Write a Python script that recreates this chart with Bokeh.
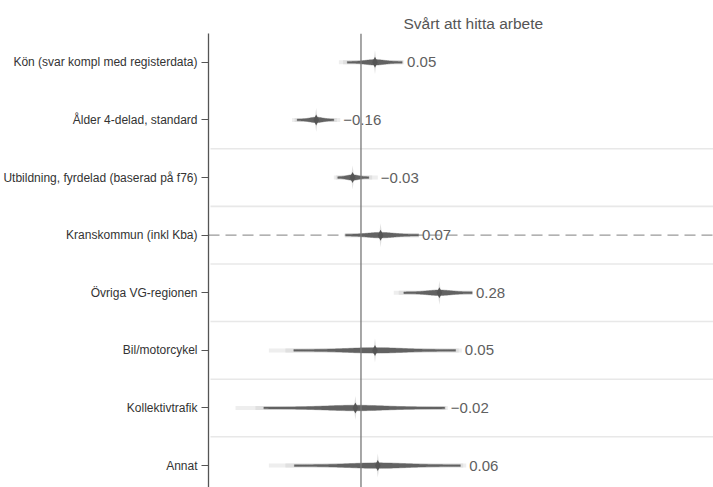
import numpy as np
from bokeh.plotting import figure
from bokeh.models import Range1d, FixedTicker, Span
from bokeh.core.properties import value
from bokeh.embed import file_html
from bokeh.resources import INLINE

# ---- data ----
categories = [
    "Kön (svar kompl med registerdata)",
    "Ålder 4-delad, standard",
    "Utbildning, fyrdelad (baserad på f76)",
    "Kranskommun (inkl Kba)",
    "Övriga VG-regionen",
    "Bil/motorcykel",
    "Kollektivtrafik",
    "Annat",
]
est = [0.05, -0.16, -0.03, 0.07, 0.28, 0.05, -0.02, 0.06]
labels = ["0.05", "\u22120.16", "\u22120.03", "0.07", "0.28", "0.05", "\u22120.02", "0.06"]
outer_lo = [-0.079, -0.246, -0.097, -0.059, 0.117, -0.329, -0.448, -0.329]
outer_hi = [0.154, -0.074, 0.060, 0.207, 0.400, 0.360, 0.310, 0.376]
mid_lo = [-0.064, -0.237, -0.090, -0.057, 0.135, -0.270, -0.377, -0.270]
mid_hi = [0.150, -0.086, 0.040, 0.207, 0.398, 0.349, 0.304, 0.365]
dark_lo = [-0.049, -0.228, -0.083, -0.055, 0.153, -0.240, -0.347, -0.238]
dark_hi = [0.147, -0.097, 0.028, 0.206, 0.397, 0.338, 0.299, 0.355]
reference_row = "Kranskommun (inkl Kba)"
title = "Svårt att hitta arbete"

FONT = "Liberation Sans"
X0, X1 = -0.5446, 1.259
Y0, Y1 = -7.38, 0.5
W, H = 713, 487
FRAME_W, FRAME_H = 505, 454
PXX = (X1 - X0) / FRAME_W
PXY = (Y1 - Y0) / FRAME_H

n = len(categories)
ys = [-i for i in range(n)]

p = figure(width=W, height=H, output_backend="svg", toolbar_location=None,
           x_range=Range1d(X0, X1), y_range=Range1d(Y0, Y1),
           min_border_left=208, min_border_right=0, min_border_bottom=0, min_border_top=33)
p.title.text = title
p.title.align = "left"
p.title.offset = 195
p.title.text_font = FONT
p.title.text_font_size = "15.5px"
p.title.text_font_style = "normal"
p.title.text_color = "#555555"
p.title.standoff = 4
p.outline_line_color = None
p.xgrid.visible = False
p.ygrid.visible = False
p.xaxis.visible = False
p.yaxis.ticker = FixedTicker(ticks=ys)
p.yaxis.major_label_overrides = {y: c for y, c in zip(ys, categories)}
p.yaxis.major_label_text_font = FONT
p.yaxis.major_label_text_font_size = "12px"
p.yaxis.major_label_text_color = "#333333"
p.yaxis.axis_line_color = "#555555"
p.yaxis.axis_line_width = 1.3
p.yaxis.major_tick_line_color = "#555555"
p.yaxis.major_tick_out = 7
p.yaxis.major_tick_in = 0
p.yaxis.minor_tick_line_color = None
p.yaxis.major_label_standoff = 4

# separators between rows
seps = [y - 0.5 for y in ys[1:]]
p.segment(x0=[X0 + 2 * PXX] * len(seps), y0=seps, x1=[X1] * len(seps), y1=seps,
          line_color="#e8e8e8", line_width=1.6)

# reference dashed line
ref_y = ys[categories.index(reference_row)]
p.add_layout(Span(location=ref_y, dimension="width", line_color="#999999",
                  line_width=1.4, line_dash="11 6", level="underlay"))

# light intervals
p.segment(x0=outer_lo, y0=ys, x1=outer_hi, y1=ys, line_color="#eeeeee", line_width=4)
p.segment(x0=mid_lo, y0=ys, x1=mid_hi, y1=ys, line_color="#e0e0e0", line_width=4)

# light center spikes (behind the dark shapes)
star_dx = np.array([0, 1.3, 5, 1.3, 0, -1.3, -5, -1.3])
star_dy = np.array([12, 2.2, 0, -2.2, -12, -2.2, 0, 2.2])
sx = [list(e + star_dx * PXX) for e in est]
sy = [list(y + star_dy * PXY) for y in ys]
p.patches(sx, sy, fill_color="#d8d8d8", fill_alpha=0.8, line_color=None)

# dark violin shapes
vx, vy = [], []
for e, lo, hi, y in zip(est, dark_lo, dark_hi, ys):
    xs = np.linspace(lo, hi, 100)
    sd = max(e - lo, hi - e) / 3.0
    half = (0.85 + 1.9 * np.exp(-0.5 * ((xs - e) / sd) ** 2)) * PXY
    vx.append(list(xs) + list(xs[::-1]))
    vy.append(list(y + half) + list((y - half)[::-1]))
p.patches(vx, vy, fill_color="#626262", line_color="#626262", line_width=0.4)

# dark center diamonds
dia_dx = np.array([0, 2.8, 0, -2.8])
dia_dy = np.array([5.5, 0, -5.5, 0])
dx = [list(e + dia_dx * PXX) for e in est]
dy = [list(y + dia_dy * PXY) for y in ys]
p.patches(dx, dy, fill_color="#555555", line_color=None)

# zero line
p.add_layout(Span(location=0, dimension="height", line_color="#777777", line_width=1.3))

# value labels
p.text(x=outer_hi, y=ys, text=labels, x_offset=3, text_baseline="middle",
       text_align="left", text_font=value(FONT), text_font_size="15px",
       text_color="#606060")

open("out.html", "w").write(file_html(p, INLINE))
